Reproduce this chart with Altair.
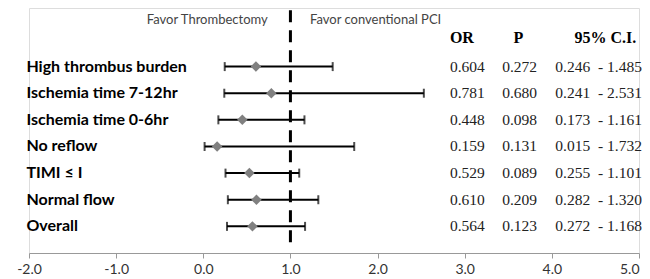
import altair as alt
import pandas as pd

labels = ["High thrombus burden", "Ischemia time 7-12hr", "Ischemia time 0-6hr",
          "No reflow", "TIMI ≤ I", "Normal flow", "Overall"]
odds = [0.604, 0.781, 0.448, 0.159, 0.529, 0.610, 0.564]
pvals = [0.272, 0.680, 0.098, 0.131, 0.089, 0.209, 0.123]
ci_lo = [0.246, 0.241, 0.173, 0.015, 0.255, 0.282, 0.272]
ci_hi = [1.485, 2.531, 1.161, 1.732, 1.101, 1.320, 1.168]
x_ticks = [-2, -1, 0, 1, 2, 3, 4, 5]

df = pd.DataFrame({
    "row": list(range(len(labels))),
    "label": labels,
    "OR": odds,
    "P": pvals,
    "lo": ci_lo,
    "hi": ci_hi,
})
df["or_txt"] = df["OR"].map(lambda v: f"{v:.3f}")
df["p_txt"] = df["P"].map(lambda v: f"{v:.3f}")
df["lo_txt"] = df["lo"].map(lambda v: f"{v:.3f}")
df["hi_txt"] = df["hi"].map(lambda v: f"- {v:.3f}")

xs = alt.Scale(domain=[-2, 5], nice=False, zero=False)
ys = alt.Scale(domain=[-2.2, 7.0], reverse=True, nice=False, zero=False)

X = lambda f: alt.X(f, type="quantitative", scale=xs,
                    axis=alt.Axis(values=x_ticks, title=None, grid=False,
                                  labelExpr="(datum.value < 0 ? '-' : '') + format(abs(datum.value), '.1f')",
                                  labelAlign={"expr": "datum.value >= 5 ? 'right' : 'center'"},
                                  labelFont="Lato", labelFontSize=14, labelColor="#333",
                                  domainColor="#999", tickColor="#999", tickSize=5,
                                  labelPadding=4, labelFlush=False))
Y = alt.Y("row:Q", scale=ys, axis=None)

base = alt.Chart(df)

ci = base.mark_rule(color="black", strokeWidth=2).encode(x=X("lo"), x2="hi:Q", y=Y)
cap_lo = base.mark_tick(color="black", orient="vertical", size=9, thickness=2).encode(x=X("lo"), y=Y)
cap_hi = base.mark_tick(color="black", orient="vertical", size=9, thickness=2).encode(x=X("hi"), y=Y)
pts = base.mark_point(shape="diamond", filled=True, color="#808080", size=110, opacity=1).encode(x=X("OR"), y=Y)

ref = alt.Chart(pd.DataFrame({"x": [1.0], "y1": [-2.12], "y2": [6.9]})).mark_rule(
    color="black", strokeWidth=3, strokeDash=[12, 8]).encode(
    x=X("x"), y=alt.Y("y1:Q", scale=ys, axis=None), y2="y2:Q")

lab = base.mark_text(align="left", font="Lato", fontWeight="bold", fontSize=16, color="black").encode(
    x=alt.datum(-2.03, type="quantitative"), y=Y, text="label:N")

def col(field, xv):
    return base.mark_text(align="left", font="Liberation Serif", fontSize=15.5, color="#222").encode(
        x=alt.datum(xv, type="quantitative"), y=Y, text=f"{field}:N")

cols = col("or_txt", 2.83) + col("p_txt", 3.43) + col("lo_txt", 4.04) + col("hi_txt", 4.53)

hdr = alt.Chart(pd.DataFrame({"t": ["OR", "P", "95% C.I."], "x": [2.83, 3.56, 4.26], "y": [-1.09] * 3})).mark_text(
    align="left", font="Liberation Serif", fontWeight="bold", fontSize=16, color="black").encode(
    x=X("x"), y=alt.Y("y:Q", scale=ys, axis=None), text="t:N")

fav = alt.Chart(pd.DataFrame({"t": ["Favor Thrombectomy", "Favor conventional PCI"],
                              "x": [0.74, 1.225], "y": [-1.75, -1.75],
                              "a": ["right", "left"]}))
fav_l = fav.transform_filter(alt.datum.a == "right").mark_text(
    align="right", font="Lato", fontSize=13, color="#444").encode(
    x=X("x"), y=alt.Y("y:Q", scale=ys, axis=None), text="t:N")
fav_r = fav.transform_filter(alt.datum.a == "left").mark_text(
    align="left", font="Lato", fontSize=13, color="#444").encode(
    x=X("x"), y=alt.Y("y:Q", scale=ys, axis=None), text="t:N")

chart = alt.layer(ref, ci, cap_lo, cap_hi, pts, lab, cols, hdr, fav_l, fav_r).properties(
    width=610, height=245,
    autosize=alt.AutoSizeParams(type="none"),
    padding={"left": 21, "top": 0, "right": 3, "bottom": 25},
).configure_view(stroke=None).configure(background="white")

chart.save("out.html", embed_options={"renderer": "svg", "actions": False})
